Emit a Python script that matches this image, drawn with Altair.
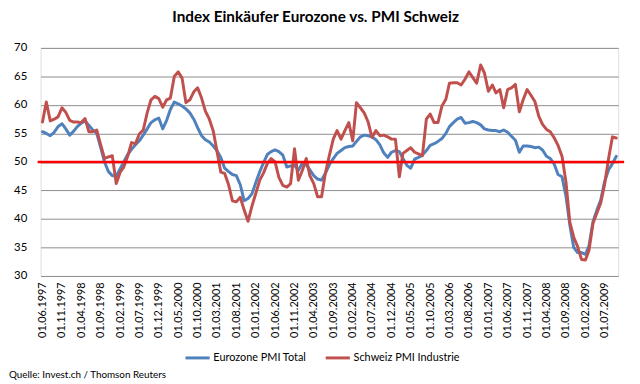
import altair as alt
import pandas as pd

TITLE = "Index Einkäufer Eurozone vs. PMI Schweiz"
SOURCE = "Quelle: Invest.ch / Thomson Reuters"
SERIES = ["Eurozone PMI Total", "Schweiz PMI Industrie"]
COLORS = ["#4F81BD", "#C0504D"]
THRESHOLD = [50]
START = "1997-06-01"

eurozone = [
    55.3, 55.0, 54.6, 55.2, 56.2, 56.7, 55.8, 54.7, 55.4, 56.2,
    56.8, 57.2, 56.4, 55.6, 55.0, 52.5, 50.0, 48.3, 47.6, 47.5,
    48.8, 50.0, 51.3, 52.2, 53.0, 53.7, 54.7, 55.8, 56.9, 57.4,
    57.7, 55.8, 57.3, 59.2, 60.5, 60.2, 59.8, 59.3, 58.6, 57.5,
    56.0, 54.6, 53.9, 53.5, 52.8, 52.0, 50.8, 48.9, 48.3, 47.8,
    47.6, 46.0, 43.2, 43.6, 44.4, 46.4, 48.3, 49.8, 51.3, 51.8,
    52.1, 51.8, 51.2, 49.1, 49.3, 49.4, 48.5, 49.8, 49.5, 48.6,
    47.6, 47.0, 46.8, 48.0, 49.5, 50.6, 51.5, 52.0, 52.5, 52.7,
    52.8, 53.6, 54.4, 54.7, 54.6, 54.4, 53.9, 53.0, 51.6, 50.8,
    51.7, 52.0, 51.8, 50.6, 49.4, 48.9, 50.5, 50.8, 51.2, 52.0,
    52.9, 53.2, 53.6, 54.1, 55.0, 56.2, 56.9, 57.5, 57.8, 56.8,
    56.9, 57.1, 56.9, 56.5, 55.8, 55.6, 55.5, 55.5, 55.3, 55.6,
    55.2, 54.5, 53.8, 51.7, 52.8, 52.8, 52.7, 52.5, 52.6, 52.1,
    51.0, 50.6, 49.6, 47.8, 47.4, 44.0, 39.0, 35.0, 34.1, 34.1,
    33.8, 35.3, 39.5, 41.5, 43.3, 46.5, 48.6, 49.7, 51.0,
]

schweiz = [
    57.0, 60.5, 57.2, 57.5, 57.9, 59.5, 58.7, 57.3, 57.0, 57.0,
    56.9, 57.6, 55.3, 55.3, 55.6, 53.0, 50.6, 50.9, 51.1, 46.2,
    48.2, 49.1, 51.0, 53.4, 53.2, 54.9, 55.6, 58.6, 60.9, 61.5,
    61.1, 59.6, 60.9, 61.2, 65.0, 65.8, 64.7, 60.4, 60.9, 62.3,
    63.0, 61.2, 58.9, 57.5, 55.4, 52.0, 48.2, 48.0, 46.0, 43.2,
    43.0, 43.8, 41.6, 39.6, 42.2, 44.5, 46.8, 48.0, 49.7, 50.6,
    50.0, 47.3, 45.9, 45.6, 46.2, 52.3, 46.8, 48.5, 50.6, 47.6,
    46.2, 43.9, 43.9, 48.0, 51.1, 54.0, 55.5, 54.0, 55.5, 56.9,
    53.7, 60.4, 59.5, 58.6, 57.0, 54.3, 55.5, 54.6, 54.7, 54.4,
    54.0, 54.0, 47.4, 51.5, 52.0, 52.5, 51.7, 51.4, 51.1, 57.5,
    58.4, 56.9, 56.9, 59.8, 61.0, 63.8, 63.9, 63.9, 63.5, 64.5,
    65.8, 64.8, 63.8, 67.0, 65.6, 62.4, 63.5, 62.1, 62.7, 59.5,
    62.7, 63.0, 63.6, 58.8, 60.9, 62.7, 61.7, 60.6, 58.0, 56.6,
    55.7, 55.3, 54.2, 52.9, 51.0, 46.5, 39.5, 36.8, 35.2, 32.9,
    32.8, 34.5, 39.2, 41.0, 42.8, 46.0, 50.5, 54.4, 54.2,
]

tick_labels = [
    "01.06.1997", "01.11.1997", "01.04.1998", "01.09.1998", "01.02.1999",
    "01.07.1999", "01.12.1999", "01.05.2000", "01.10.2000", "01.03.2001",
    "01.08.2001", "01.01.2002", "01.06.2002", "01.11.2002", "01.04.2003",
    "01.09.2003", "01.02.2004", "01.07.2004", "01.12.2004", "01.05.2005",
    "01.10.2005", "01.03.2006", "01.08.2006", "01.01.2007", "01.06.2007",
    "01.11.2007", "01.04.2008", "01.09.2008", "01.02.2009", "01.07.2009",
]
y_ticks = [30, 35, 40, 45, 50, 55, 60, 65, 70]

dates = pd.date_range(START, periods=len(eurozone), freq="MS").strftime("%Y-%m-%d")
df = pd.concat([
    pd.DataFrame({"date": dates, "value": eurozone, "series": SERIES[0]}),
    pd.DataFrame({"date": dates, "value": schweiz, "series": SERIES[1]}),
])

tick_values = []
for s in tick_labels:
    d, m, y = s.split(".")
    tick_values.append(alt.DateTime(year=int(y), month=int(m), date=int(d), utc=True))

FONT = "Lato"
W, H = 585, 231

y_scale = alt.Scale(domain=[30, 70], nice=False, zero=False)

x_enc = alt.X(
    "date:T",
    scale=alt.Scale(type="utc", domain=[
        alt.DateTime(year=1997, month=5, date=17, utc=True),
        alt.DateTime(year=2009, month=10, date=16, utc=True),
    ]),
    axis=alt.Axis(
        values=tick_values, format="%d.%m.%Y", labelAngle=270, title=None,
        grid=False, domain=False, ticks=False, labelPadding=6,
        labelFont=FONT, labelFontSize=11, labelColor="#000000",
        labelOverlap=False, labelFlush=False, labelBound=False,
    ),
)
y_axis = alt.Axis(
    values=y_ticks, title=None, grid=True, tickCount=9,
    gridColor="#8C8C8C", gridWidth=1, domain=False, ticks=False,
    labelPadding=14, labelFont=FONT, labelFontSize=11.5, labelColor="#000000",
    labelOverlap=False,
)
y_enc = alt.Y("value:Q", scale=y_scale, axis=y_axis)
color_enc = alt.Color(
    "series:N",
    scale=alt.Scale(domain=SERIES, range=COLORS),
    legend=alt.Legend(
        title=None, orient="none", legendX=145, legendY=300,
        direction="horizontal", symbolType="stroke", symbolStrokeWidth=3,
        symbolSize=600, labelFont=FONT, labelFontSize=11, labelColor="#000000",
        columnPadding=12, labelOffset=2,
    ),
)

base = alt.Chart(df).mark_line(strokeWidth=3, strokeJoin="round", strokeCap="round")
blue = base.transform_filter(alt.datum.series == SERIES[0]).encode(x=x_enc, y=y_enc, color=color_enc)
red = base.transform_filter(alt.datum.series == SERIES[1]).encode(x=x_enc, y=y_enc, color=color_enc)

rule = alt.Chart(pd.DataFrame({"value": THRESHOLD})).mark_rule(
    color="#FF0000", strokeWidth=2.5
).encode(y=y_enc, x=alt.value(-3), x2=alt.value(W + 6))

source = alt.Chart(pd.DataFrame({"t": [SOURCE]})).mark_text(
    align="left", baseline="alphabetic", font=FONT, fontSize=10, color="#000000"
).encode(text="t:N", x=alt.value(-32), y=alt.value(334))

chart = alt.layer(blue, red, rule, source).properties(
    width=W, height=H,
    title=alt.TitleParams(TITLE, font=FONT, fontSize=15.5, fontWeight="bold",
                          anchor="middle", dx=-14, offset=17, color="#000000"),
    autosize=alt.AutoSizeParams(type="none"),
    padding={"left": 33, "top": 38, "right": 14, "bottom": 107},
).configure_view(stroke=None).configure(background="white")

chart.save("out.html", embed_options={"renderer": "svg", "actions": False})
